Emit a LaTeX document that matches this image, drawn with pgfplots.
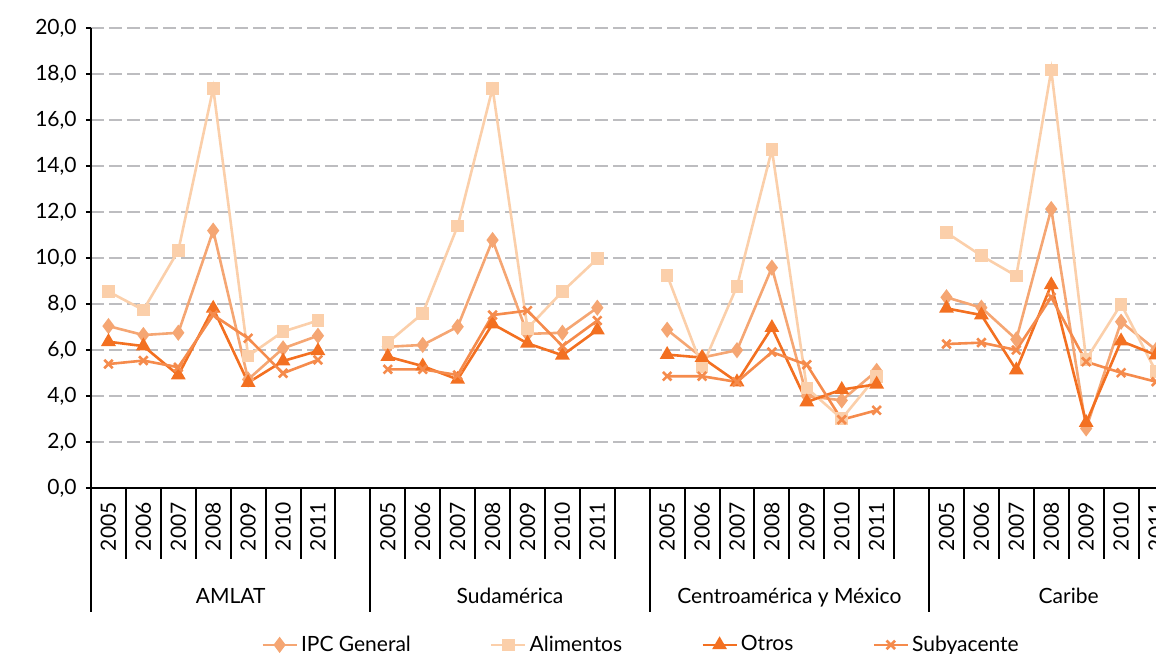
\documentclass[border=0pt]{standalone}
\usepackage{fontspec}
\setmainfont{Lato}
\usepackage{graphicx}
\usepackage{pgfplots}
\usepackage{pgfplotstable}
\pgfplotsset{compat=1.18}

\definecolor{cIPC}{HTML}{F5A673}
\definecolor{cAli}{HTML}{FBCFAA}
\definecolor{cOtr}{HTML}{F37021}
\definecolor{cSub}{HTML}{F58B4C}
\definecolor{cGrid}{HTML}{BDBDC0}

\newcommand{\Y}[1]{\rotatebox{90}{#1}}

% x = posicion de la categoria (grupo*8 + anio + 0.5); nan corta la linea entre grupos
\pgfplotstableread{
x    ipc   ali   otr   sub
0.5  7.04  8.54  6.36  5.39
1.5  6.65  7.74  6.17  5.54
2.5  6.75  10.32 4.91  5.25
3.5  11.19 17.38 7.81  7.52
4.5  4.72  5.74  4.58  6.51
5.5  6.07  6.80  5.52  4.99
6.5  6.62  7.28  5.96  5.57
7.5  nan   nan   nan   nan
8.5  6.14  6.32  5.71  5.16
9.5  6.22  7.59  5.30  5.16
10.5 7.01  11.39 4.72  4.91
11.5 10.78 17.38 7.13  7.52
12.5 6.70  6.94  6.29  7.71
13.5 6.75  8.54  5.77  6.17
14.5 7.84  9.97  6.87  7.28
15.5 nan   nan   nan   nan
16.5 6.88  9.25  5.80  4.86
17.5 5.67  5.26  5.67  4.86
18.5 5.99  8.77  4.61  4.61
19.5 9.58  14.71 6.97  5.91
20.5 4.00  4.35  3.74  5.36
21.5 3.81  3.01  4.28  2.97
22.5 5.09  4.86  4.51  3.38
23.5 nan   nan   nan   nan
24.5 8.29  11.10 7.81  6.26
25.5 7.84  10.10 7.52  6.32
26.5 6.46  9.22  5.13  6.00
27.5 12.13 18.17 8.83  8.29
28.5 2.59  5.59  2.84  5.49
29.5 7.23  7.99  6.39  5.01
30.5 6.00  5.06  5.78  4.62
}\datos

\begin{document}
\begin{tikzpicture}[font=\fontsize{10.5}{12.6}\selectfont]
\begin{axis}[
  scale only axis,
  width=532.5pt, height=230pt,
  xmin=0, xmax=30.5, ymin=0, ymax=20,
  clip=false,
  unbounded coords=jump,
  axis x line=bottom, axis y line=left,
  axis line style={-, line width=1pt, black},
  ytick={0,2,...,20},
  /pgf/number format/fixed,
  /pgf/number format/fixed zerofill,
  /pgf/number format/precision=1,
  /pgf/number format/use comma,
  /pgf/number format/assume math mode=true,
  tick align=outside,
  major tick length=2.5pt,
  ytick style={line width=1pt, black},
  x tick style={draw=none},
  ymajorgrids,
  grid style={line width=1pt, cGrid, dash pattern=on 6.5pt off 2.5pt},
  yticklabel style={inner sep=0pt, xshift=-4.5pt},
  xtick={0.5,1.5,2.5,3.5,4.5,5.5,6.5,
         8.5,9.5,10.5,11.5,12.5,13.5,14.5,
         16.5,17.5,18.5,19.5,20.5,21.5,22.5,
         24.5,25.5,26.5,27.5,28.5,29.5,30.5},
  xticklabels={\Y{2005},\Y{2006},\Y{2007},\Y{2008},\Y{2009},\Y{2010},\Y{2011},
               \Y{2005},\Y{2006},\Y{2007},\Y{2008},\Y{2009},\Y{2010},\Y{2011},
               \Y{2005},\Y{2006},\Y{2007},\Y{2008},\Y{2009},\Y{2010},\Y{2011},
               \Y{2005},\Y{2006},\Y{2007},\Y{2008},\Y{2009},\Y{2010},\Y{2011}},
  xticklabel style={anchor=north, inner sep=0pt, yshift=-4.5pt},
  extra x ticks={4,12,20,28},
  extra x tick labels={AMLAT,Sudamérica,Centroamérica y México,Caribe},
  extra x tick style={grid=none, tick style={draw=none},
    xticklabel style={anchor=base, yshift=-50.5pt}},
  legend columns=4,
  legend style={at={(0.1595,-0.341)}, anchor=west, draw=none, fill=none,
    inner sep=0pt, nodes={inner sep=1.5pt},
    /tikz/every even column/.append style={column sep=38pt}},
  every axis plot/.append style={line width=1.3pt},
]
\addplot[cIPC, mark=diamond*, mark size=3pt] table[x=x, y=ipc] {\datos};
\addlegendentry{IPC General}
\addplot[cAli, mark=square*, mark size=2.5pt] table[x=x, y=ali] {\datos};
\addlegendentry{Alimentos}
\addplot[cOtr, mark=triangle*, mark size=3pt] table[x=x, y=otr] {\datos};
\addlegendentry{Otros}
\addplot[cSub, mark=x, mark size=3pt, mark options={line width=1.3pt}] table[x=x, y=sub] {\datos};
\addlegendentry{Subyacente}

\pgfplotsinvokeforeach{1,...,30}{\draw[line width=1pt] (axis cs:#1,0) -- ++(0pt,-35.5pt);}
\pgfplotsinvokeforeach{0,8,16,24}{\draw[line width=1pt] (axis cs:#1,0) -- ++(0pt,-62pt);}
\end{axis}
\pgfresetboundingbox
\path[use as bounding box] ([xshift=-45.5pt, yshift=-82.5pt]current axis.south west)
  rectangle ([yshift=14pt]current axis.north east);
\end{tikzpicture}
\end{document}
